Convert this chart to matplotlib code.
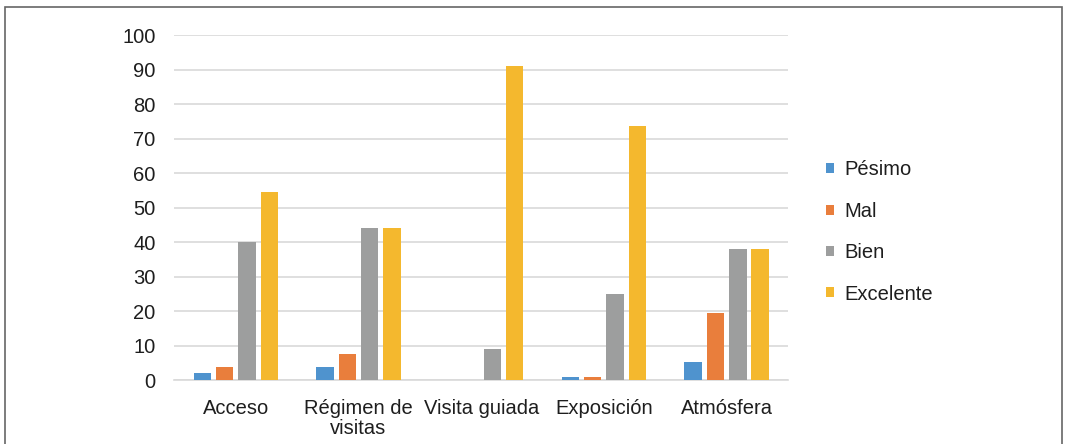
import matplotlib
matplotlib.use("Agg")
import matplotlib.pyplot as plt
import numpy as np
from matplotlib.patches import Rectangle

categories = ["Acceso", "Régimen de\nvisitas", "Visita guiada", "Exposición", "Atmósfera"]
series_names = ["Pésimo", "Mal", "Bien", "Excelente"]
pesimo = [1.9, 3.8, 0, 0.8, 5.1]
mal = [3.7, 7.6, 0, 0.8, 19.3]
bien = [40, 44, 9, 25, 38]
excelente = [54.5, 44, 91, 73.5, 38]
colors = ["#4F93CE", "#E97E3C", "#9D9E9E", "#F4B82E"]

plt.rcParams['font.family'] = ['Liberation Sans', 'DejaVu Sans']
FS = 14.5

fig = plt.figure(figsize=(10.65, 4.44), dpi=100)
ax = fig.add_axes([174.4/1065, 1-380/444, (788-174.4)/1065, (380-35)/444])

x = np.arange(len(categories))
w = 0.142
step = 0.182
data = [pesimo, mal, bien, excelente]
for i, (vals, name, c) in enumerate(zip(data, series_names, colors)):
    ax.bar(x + (i - 1.5) * step, vals, width=w, color=c, label=name, zorder=3)

ax.set_xlim(-0.5, len(categories) - 0.5)
ax.set_ylim(0, 100)
ax.set_yticks(range(0, 101, 10))
ax.set_xticks(x)
ax.set_xticklabels(categories)
ax.grid(axis='y', color='#D9D9D9', linewidth=1.2, zorder=0)
for s in ['top', 'right', 'left']:
    ax.spines[s].set_visible(False)
ax.spines['bottom'].set_color('#D9D9D9')
ax.spines['bottom'].set_linewidth(1.2)
ax.tick_params(axis='both', length=0, labelsize=FS, colors='#1E1E1E')
ax.tick_params(axis='y', pad=13.5)
ax.tick_params(axis='x', pad=13.5)
for lbl in ax.get_xticklabels():
    lbl.set_linespacing(1.08)

leg = fig.legend(loc='center left', bbox_to_anchor=(808/1065, 1-232/444), frameon=False,
                 fontsize=FS, handlelength=0.4, handleheight=0.4, handletextpad=0.5,
                 labelspacing=1.11)
for t in leg.get_texts():
    t.set_color('#1E1E1E')

fig.patches.append(Rectangle((5/1065, -0.1), (1062-5)/1065, 1.1 - 7/444,
                             transform=fig.transFigure, fill=False,
                             edgecolor='#666666', linewidth=1.2))

fig.savefig("out.png", dpi=100)
